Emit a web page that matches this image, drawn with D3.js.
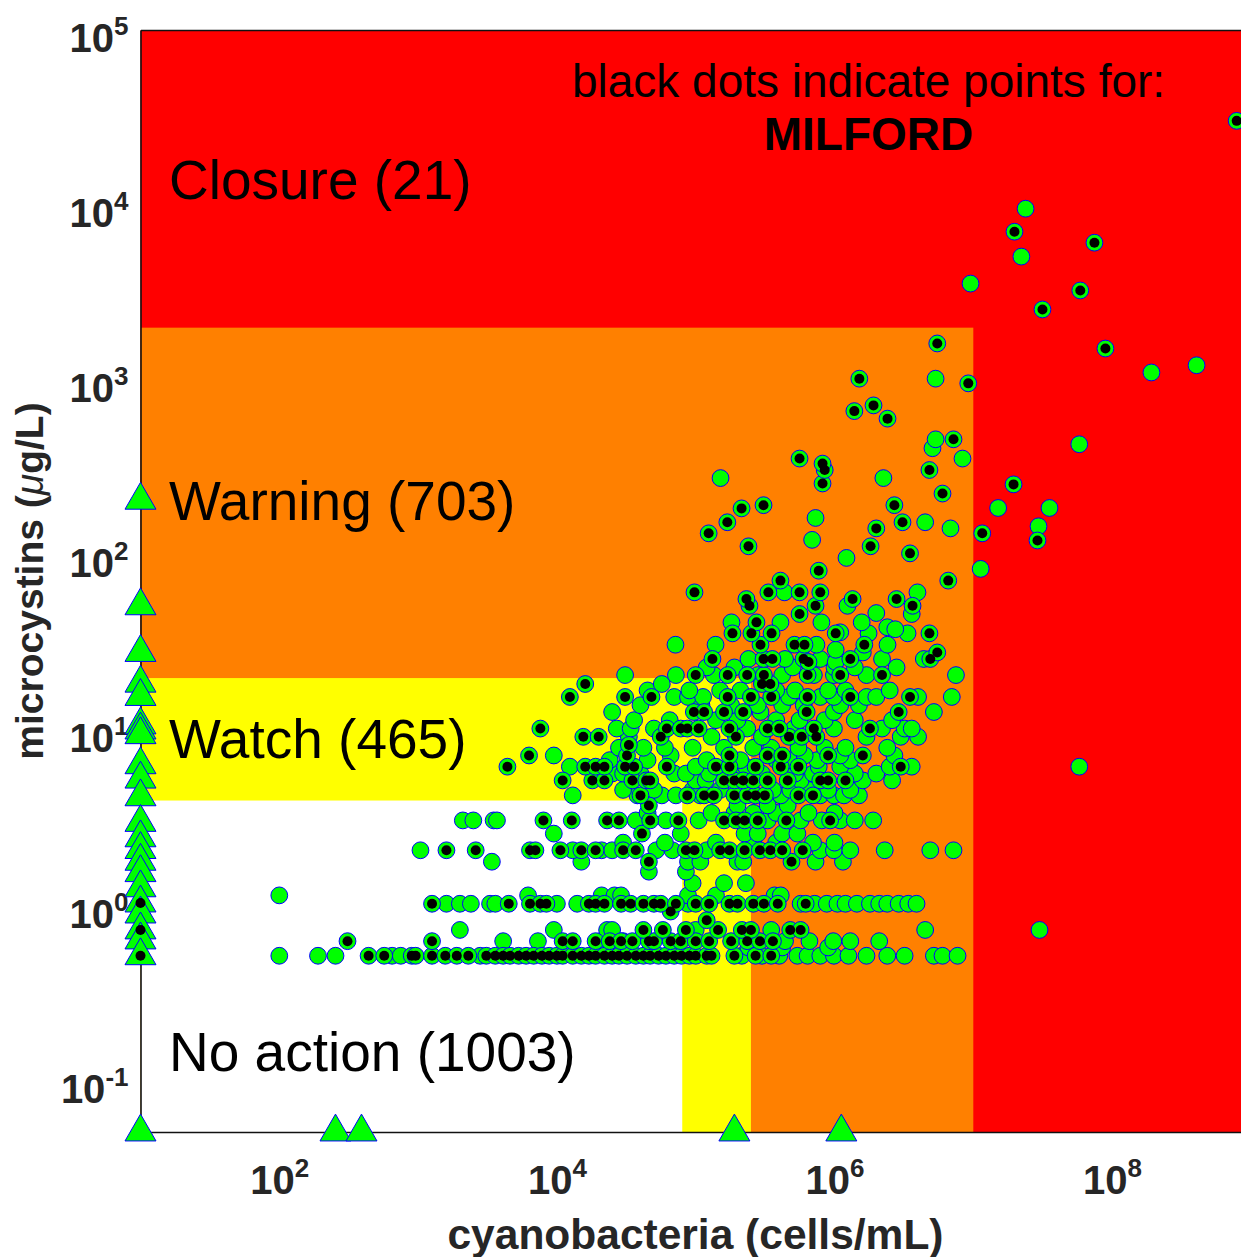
<!DOCTYPE html>
<html>
<head>
<meta charset="utf-8">
<script src="https://cdn.jsdelivr.net/npm/d3@7"></script>
<style>
body { margin: 0; background: #fff; }
svg { display: block; font-family: "Liberation Sans", Arial, Helvetica, sans-serif; }
</style>
</head>
<body>
<svg id="chart" width="1241" height="1257"></svg>
<script>
// axis limits + guideline thresholds (cells/mL, ug/L)
var cellLimits = [10, 1e9];
var microLimits = [0.0513, 1e5];
var cellThresholds = [8e4, 2.5e5, 1e7];
var microThresholds = [4, 20, 2000];
var zoneNames = ['Closure (21)', 'Warning (703)', 'Watch (465)', 'No action (1003)'];
var zoneColors = ['#ff0000', '#ff8000', '#ffff00', '#ffffff'];
var xTicks = [1e2, 1e4, 1e6, 1e8];
var yTicks = [1e-1, 1e0, 1e1, 1e2, 1e3, 1e4, 1e5];

function row(mc, cells) { return cells.map(function (c) { return [c, mc]; }); }

// all other sites: [cells, microcystins]
var otherPoints = [].concat(
	row(0.52, [100, 190, 254, 650, 750, 2800, 215000, 300000, 400000, 540000, 640000, 790000, 990000, 1.26e6, 1.7e6, 2.4e6, 3.2e6, 5.2e6, 6.0e6, 7.7e6]),
	row(0.58, [240000, 420000, 900000]),
	row(0.63, [4100, 7300, 20600, 30000, 440000, 660000, 980000, 1.3e6, 2.1e6]),
	row(0.73, [2000, 9500, 23000, 25000, 100000, 350000, 4.5e6, 3.0e7]),
	row(1.03, [1600, 2000, 2400, 3300, 3600, 10000, 14000, 88000, 570000, 720000, 880000, 1.05e6, 1.2e6, 1.45e6, 1.8e6, 2.1e6, 2.4e6, 2.9e6, 3.4e6, 3.9e6]),
	row(1.15, [100, 6200, 21000, 26000, 29000, 88000, 140000, 370000, 410000]),
	row(1.35, [95000, 160000, 230000]),
	row(1.57, [46000, 85000]),
	row(1.79, [3400, 15000, 88000, 108000, 200000, 220000, 730000, 1.15e6]),
	row(2.08, [1040, 13000, 21000, 25000, 52000, 68000, 120000, 790000, 990000, 1.3e6, 2.3e6, 4.9e6, 7.2e6]),
	row(2.3, [30000, 60000, 140000, 260000, 380000, 700000, 1.0e6]),
	row(2.59, [9500, 78000, 225000, 280000, 420000, 540000]),
	row(3.08, [2100, 2500, 3500, 3700, 37000, 61000, 105000, 330000, 570000, 810000, 1.1e6, 1.4e6, 1.9e6]),
	row(3.4, [45000, 130000, 190000, 260000, 380000, 650000, 1.0e6]),
	row(3.75, [200000, 330000, 460000]),
	row(4.28, [13000, 38000, 57000, 72000, 108000, 410000, 790000, 990000, 1.17e6, 1.5e6]),
	row(4.6, [30000, 50000, 95000, 150000, 250000, 360000, 480000, 650000, 900000, 1.3e6]),
	row(5.21, [100000, 118000, 570000, 1.6e6, 2.6e6]),
	row(5.7, [25000, 30000, 40000, 70000, 85000, 125000, 200000, 300000, 520000, 700000, 1.4e6, 2.0e6]),
	row(6.24, [12400, 100000, 230000, 770000, 1.1e6, 2.5e6, 3.6e6, 5.8e7]),
	row(6.8, [24000, 45000, 120000, 210000, 380000, 480000, 750000, 1.3e6]),
	row(7.23, [9500, 66000, 610000, 1.1e6, 2.7e6]),
	row(8.0, [28000, 42000, 60000, 95000, 160000, 260000, 350000, 550000, 850000, 1.2e6, 2.4e6]),
	row(9.24, [33000, 130000, 300000, 1.7e6, 3.0e6, 4.0e6]),
	row(10.3, [27000, 34000, 50000, 235000, 510000, 990000, 2.2e6, 3.2e6, 3.6e6]),
	row(11.5, [36000, 65000, 140000, 200000, 380000, 560000, 850000, 1.4e6, 2.6e6]),
	row(12.8, [25000, 293000, 990000, 5.2e6]),
	row(14, [40000, 110000, 180000, 280000, 420000, 600000, 1.1e6, 1.5e6]),
	row(15.6, [70000, 88000, 113000, 470000, 790000, 990000, 1.7e6, 2.0e6, 4.0e6, 7.0e6]),
	row(17, [45000, 90000, 150000, 210000, 380000, 520000, 900000, 1.2e6, 2.5e6]),
	row(18.5, [57000]),
	row(20.8, [31000, 72000, 135000, 280000, 420000, 710000, 990000, 1.7e6, 7.5e6]),
	row(23, [120000, 190000, 500000, 1.0e6, 1.4e6, 2.8e6]),
	[[240000, 25.7], [440000, 25.7], [790000, 25.7], [1.02e6, 24.7], [1.6e6, 28], [2.2e6, 25.7], [4.4e6, 25.7],
	 [71500, 31], [139000, 31], [741000, 31], [1.02e6, 29], [2.41e6, 31],
	 [1.1e6, 36.5], [1.76e6, 36], [3.36e6, 36],
	 [181000, 41.6], [408000, 41.6], [805000, 41.6], [1.57e6, 41.6], [2.4e6, 39], [2.74e6, 38],
	 [3.6e6, 46.4], [1.24e6, 51.7], [2.0e6, 47], [436000, 61.7], [3.96e6, 61.7],
	 [1.13e7, 84], [1.22e6, 97], [690000, 123], [6.85e6, 143], [4.5e6, 155], [730000, 164],
	 [151000, 277], [2.25e6, 277], [8.36e6, 358], [5.08e6, 410], [5.35e6, 461], [5.35e6, 1023],
	 [2.38e7, 9550], [2.22e7, 5090], [9.55e6, 3570], [1.92e8, 1110], [4.06e8, 1220], [5.8e7, 432],
	 [1.51e7, 187], [3.54e7, 187], [2.95e7, 147]]
);

// Milford points (black dots)
var milfordPoints = [].concat(
	row(0.52, [440, 570, 900, 960, 1260, 1570, 1900, 2300, 3100, 3600, 4100, 4600, 5300, 6000, 6800, 7800, 8800, 10000, 11000, 13000, 15000, 17000, 19000, 22000, 25000, 28000, 32000, 37000, 42000, 47000, 54000, 61000, 70000, 79000, 90000, 100000, 120000, 130000, 190000, 270000, 350000]),
	row(0.63, [310, 1260, 11000, 13000, 19000, 24000, 29000, 35000, 46000, 50000, 66000, 78000, 100000, 125000, 180000, 235000, 290000, 360000]),
	row(0.73, [42000, 58000, 85000, 145000, 215000, 250000, 480000, 570000]),
	row(0.83, [120000]),
	row(0.93, [66000]),
	row(1.03, [1260, 4500, 6400, 7600, 8400, 17000, 19000, 22000, 29000, 34000, 42000, 50000, 56000, 72000, 100000, 125000, 175000, 200000, 260000, 310000, 390000, 620000]),
	row(1.79, [46000, 490000]),
	row(2.08, [1600, 2600, 6400, 7000, 10600, 15000, 19000, 30000, 37000, 85000, 98000, 150000, 175000, 225000, 290000, 345000, 420000, 590000]),
	row(2.59, [41000]),
	row(3.08, [8000, 12800, 23000, 28000, 47000, 75000, 160000, 195000, 225000, 280000, 450000, 930000]),
	row(3.75, [46000]),
	row(4.28, [40000, 87000, 115000, 135000, 190000, 235000, 270000, 315000, 550000, 700000]),
	row(5.21, [11000, 18000, 22000, 35000, 44000, 47000, 160000, 190000, 220000, 260000, 330000, 460000, 790000, 900000, 1.2e6]),
	row(6.24, [4400, 16000, 19000, 22000, 31000, 36000, 62000, 140000, 175000, 270000, 410000, 550000, 3.0e6]),
	row(7.23, [6300, 32000, 175000, 330000, 420000, 900000, 1.6e6]),
	row(8.3, [33000]),
	row(9.24, [15500, 20000, 56000, 195000, 470000, 580000, 740000]),
	row(10.3, [7600, 62000, 78000, 87000, 105000, 175000, 330000, 400000, 710000, 1.8e6]),
	row(12.8, [97000, 115000, 160000, 220000, 630000, 2.9e6]),
	row(15.6, [12400, 31000, 48000, 170000, 250000, 350000, 640000, 1.3e6, 3.5e6]),
	row(18.5, [16000, 300000, 345000]),
	row(20.8, [100000, 170000, 235000, 310000, 640000, 1.1e6, 2.2e6]),
	[[132000, 25.7], [308000, 25.7], [357000, 25.7], [598000, 25.7], [650000, 24.7], [1.3e6, 25.7], [4.9e6, 25.7], [5.5e6, 28],
	 [293000, 31], [515000, 31], [608000, 31], [1.64e6, 31],
	 [184000, 36], [252000, 36], [352000, 36], [1.02e6, 36], [4.83e6, 36],
	 [274000, 41.6], [560000, 46.4], [244000, 51.7], [730000, 51.7], [3.65e6, 51.7],
	 [232000, 56.5], [1.35e6, 56.5], [2.8e6, 56.5],
	 [98000, 61.7], [334000, 61.7], [560000, 61.7], [790000, 61.7],
	 [408000, 72], [6.6e6, 72], [770000, 82], [3.5e6, 103], [240000, 113], [1.82e6, 113],
	 [124000, 134], [2.0e6, 143], [169000, 155], [3.09e6, 155], [214000, 186], [308000, 194], [2.7e6, 194],
	 [6.0e6, 226], [820000, 258], [850000, 308], [4.83e6, 308], [820000, 335], [560000, 358],
	 [1.39e6, 668], [1.91e6, 720], [2.41e6, 605], [7.2e6, 461], [1.51e6, 1023], [9.2e6, 962], [5.5e6, 1625],
	 [7.9e8, 30300], [1.98e7, 7060], [7.46e7, 6110], [5.9e7, 3260], [3.15e7, 2540], [8.95e7, 1520],
	 [1.95e7, 255], [2.9e7, 122], [1.16e7, 134]]
);

// samples with no cell count (drawn on the left axis) and no toxin value (on the bottom axis)
var noCellMicro = [207, 51.7, 28, 18.7, 15.7, 10.8, 10.1, 9.5, 6.4, 5.3, 4.2, 3.0, 2.45, 2.1, 1.8, 1.55, 1.27, 1.04, 0.9, 0.73, 0.64, 0.52];
var noCellMilford = [1.04, 0.73, 0.52];
var noMicroCells = [10, 254, 391, 1.9e5, 1.12e6];

var svg = d3.select('#chart');
var x = d3.scaleLog().domain(cellLimits).range([140.5, 1250.9]);
var y = d3.scaleLog().domain(microLimits).range([1132, 30]);

// guideline zones, largest first
var zones = zoneNames.map(function (name, i) {
	return {
		name: name, color: zoneColors[i],
		xmax: i === 0 ? cellLimits[1] : cellThresholds[3 - i],
		ymax: i === 0 ? microLimits[1] : microThresholds[3 - i]
	};
});
svg.append('g').selectAll('rect').data(zones).enter().append('rect')
	.attr('x', x(cellLimits[0]))
	.attr('y', function (d) { return y(d.ymax); })
	.attr('width', function (d) { return x(d.xmax) - x(cellLimits[0]); })
	.attr('height', function (d) { return y(microLimits[0]) - y(d.ymax); })
	.style('fill', function (d) { return d.color; });

// axes (no tick marks, box on)
var xAxis = svg.append('g').attr('transform', 'translate(0,' + y(microLimits[0]) + ')')
	.call(d3.axisBottom(x).tickValues(xTicks).tickSize(0).tickFormat(''));
var yAxis = svg.append('g').attr('transform', 'translate(' + x(cellLimits[0]) + ',0)')
	.call(d3.axisLeft(y).tickValues(yTicks).tickSize(0).tickFormat(''));
svg.append('g').attr('transform', 'translate(0,' + y(microLimits[1]) + ')')
	.call(d3.axisTop(x).tickValues([]).tickSizeOuter(0));
svg.selectAll('.domain').style('stroke', '#111').style('stroke-width', 1.6);

function powerLabel(sel, anchor) {
	sel.append('text')
		.attr('text-anchor', anchor)
		.style('fill', '#262626').style('font-weight', 'bold').style('font-size', '40px')
		.each(function (d) {
			var t = d3.select(this);
			t.append('tspan').text('10');
			t.append('tspan').attr('dy', -17).style('font-size', '26px').text(Math.round(Math.log10(d)));
		});
}
xAxis.selectAll('.tick').call(powerLabel, 'middle');
xAxis.selectAll('.tick text').attr('y', 61.5);
yAxis.selectAll('.tick').call(powerLabel, 'end');
yAxis.selectAll('.tick text').attr('x', -12).attr('y', 21);

// scatter
var allPoints = otherPoints.concat(milfordPoints);
svg.append('g').selectAll('circle').data(allPoints).enter().append('circle')
	.attr('cx', function (d) { return x(d[0]); })
	.attr('cy', function (d) { return y(d[1]); })
	.attr('r', 8.4)
	.style('fill', '#00ff00').style('stroke', '#0000ff').style('stroke-width', 1);

var tri = d3.symbol().type(d3.symbolTriangle).size(416);
var triPoints = noCellMicro.map(function (m) { return [cellLimits[0], m]; })
	.concat(noMicroCells.map(function (c) { return [c, microLimits[0]]; }));
svg.append('g').selectAll('path').data(triPoints).enter().append('path')
	.attr('d', tri)
	.attr('transform', function (d) { return 'translate(' + x(d[0]) + ',' + y(d[1]) + ')'; })
	.style('fill', '#00ff00').style('stroke', '#0000ff').style('stroke-width', 1);

var blackPoints = milfordPoints.concat(noCellMilford.map(function (m) { return [cellLimits[0], m]; }));
svg.append('g').selectAll('circle').data(blackPoints).enter().append('circle')
	.attr('cx', function (d) { return x(d[0]); })
	.attr('cy', function (d) { return y(d[1]); })
	.attr('r', 5)
	.style('fill', '#000');

// zone labels
var zoneLabelY = [199, 520, 758, 1071];
svg.append('g').selectAll('text').data(zones).enter().append('text')
	.attr('x', 169)
	.attr('y', function (d, i) { return zoneLabelY[i]; })
	.style('font-size', '55px').style('fill', '#000')
	.text(function (d) { return d.name; });

svg.append('text').attr('x', 868.5).attr('y', 96.7).attr('text-anchor', 'middle')
	.style('font-size', '46px').text('black dots indicate points for:');
svg.append('text').attr('x', 868.5).attr('y', 150).attr('text-anchor', 'middle')
	.style('font-size', '46px').style('font-weight', 'bold').text('MILFORD');

// axis titles
svg.append('text').attr('x', 695.5).attr('y', 1249).attr('text-anchor', 'middle')
	.style('font-size', '42.5px').style('font-weight', 'bold').style('fill', '#262626')
	.text('cyanobacteria (cells/mL)');
var ylab = svg.append('text').attr('transform', 'translate(43,581) rotate(-90)').attr('text-anchor', 'middle')
	.style('font-size', '39px').style('font-weight', 'bold').style('fill', '#262626');
ylab.append('tspan').text('microcystins (');
ylab.append('tspan').style('font-style', 'italic').style('font-weight', 'normal').text('\u03bc');
ylab.append('tspan').text('g/L)');
</script>
</body>
</html>
